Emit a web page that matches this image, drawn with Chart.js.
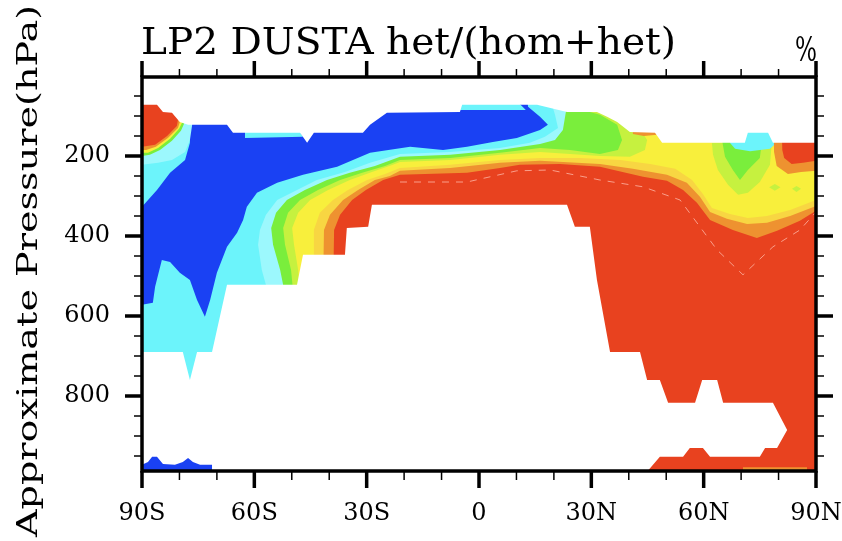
<!DOCTYPE html>
<html>
<head>
<meta charset="utf-8">
<title>LP2 DUSTA het/(hom+het)</title>
<script src="https://cdn.jsdelivr.net/npm/chart.js@4.4.0/dist/chart.umd.min.js"></script>
<style>
  html, body { margin: 0; padding: 0; background: #fff; }
  canvas { display: block; }
</style>
</head>
<body>
<canvas id="grafica" width="842" height="541"></canvas>
<script>
// Ejes: latitud y presion aproximada (hPa)
const latTicks = [-90, -60, -30, 0, 30, 60, 90];
const latLabels = ['90S', '60S', '30S', '0', '30N', '60N', '90N'];
const presTicks = [200, 400, 600, 800];
const presLabels = ['200', '400', '600', '800'];

// Colores de los niveles (de bajo a alto)
const cBlue = '#1a41f3';
const cCyan = '#6cf4fb';
const cPale = '#9cf8fd';
const cGreen = '#7aee3c';
const cYgreen = '#c6f13f';
const cYellow = '#f8ef3c';
const cGold = '#f8d642';
const cOrange = '#ee9230';
const cRed = '#e8421f';

// Regiones rellenas, cada punto es [latitud, hPa]
const domain = [[-90, 0], [90, 0], [90, 1000], [-90, 1000]];

const blueArea = [[-77.2, 0], [-77.2, 122], [-77.2, 167], [-78.5, 210], [-82.5, 242], [-86, 285], [-90, 327],
  [-90, 572], [-87.1, 567], [-86.5, 527], [-84.7, 460], [-82.5, 465], [-79.9, 492], [-77.2, 510], [-75.3, 560],
  [-73.2, 602], [-71.8, 560], [-70, 492], [-67.3, 427], [-64.6, 392], [-63, 360], [-62, 327], [-59.3, 292],
  [-53.9, 267], [-47, 247], [-37.9, 227], [-29.1, 192], [-18.4, 177], [-9.6, 185], [-3.2, 177], [3.7, 165],
  [10.1, 155], [16.3, 135], [18.4, 122], [16.3, 102], [13.1, 77], [12.3, 0]];

const paleBand = [[-55.8, 1000], [-55.8, 560], [-58, 485], [-59, 422], [-58.5, 385], [-56.9, 347], [-53.9, 310],
  [-48.6, 285], [-43.3, 260], [-35.8, 240], [-29.1, 217], [-21.1, 195], [-7.7, 190], [5.6, 180], [13.6, 167],
  [17.6, 152], [21.1, 130], [20.3, 97], [19.5, 72], [19.5, 0], [90, 0], [90, 1000]];

const greenBand = [[-51.5, 1000], [-51.5, 560], [-53.1, 485], [-55, 422], [-55.5, 380], [-54.2, 342], [-51.3, 310],
  [-46.5, 285], [-40.6, 260], [-34.5, 242], [-27.8, 225], [-21.1, 202], [-7.7, 197], [5.6, 185], [16.3, 170],
  [20.3, 160], [22.4, 135], [23.2, 90], [23.2, 0], [90, 0], [90, 1000]];

const ygreenBand = [[-49.4, 1000], [-49.4, 560], [-50.2, 485], [-51.8, 422], [-52.3, 380], [-51, 342], [-47.8, 310],
  [-43, 285], [-37.1, 260], [-31.2, 242], [-25.1, 225], [-21.1, 210], [-7.7, 205], [5.6, 192], [16.3, 180],
  [24.3, 185], [32.3, 195], [37.1, 185], [38.2, 160], [36.9, 122], [32.3, 97], [29.6, 90], [29.6, 0],
  [90, 0], [90, 1000]];

const yellowBand = [[-47.8, 1000], [-47.8, 560], [-48.3, 485], [-49.4, 422], [-49.9, 380], [-48.3, 342], [-45.1, 310],
  [-40.3, 285], [-34.5, 260], [-28.6, 240], [-23, 222], [-21.1, 215], [-7.7, 210], [5.6, 197], [16.3, 190],
  [24.3, 195], [32.3, 200], [40.3, 202], [44.3, 185], [44.9, 160], [43.5, 140], [43.5, 0], [90, 0], [90, 1000]];

const goldBand = [[-44.1, 1000], [-44.1, 560], [-44.1, 385], [-42.5, 342], [-39, 310], [-35, 285], [-29.9, 260],
  [-25.1, 245], [-21.1, 230], [-7.7, 222], [5.6, 210], [16.3, 205], [27, 205], [37.7, 210], [45.7, 220],
  [52.4, 232], [56.9, 260], [59.8, 295], [62.2, 330], [67, 345], [71.8, 355], [76.9, 350], [83.1, 335],
  [90, 310], [90, 1000]];

const orangeBand = [[-41.7, 1000], [-41.7, 560], [-41.4, 385], [-39.8, 347], [-36.3, 310], [-32.3, 285], [-27.8, 260],
  [-23.8, 250], [-21.1, 237], [-7.7, 230], [5.6, 217], [16.3, 212], [32.3, 220], [41.1, 232], [50.2, 247],
  [55.5, 267], [59, 302], [61.7, 340], [66.2, 357], [71.6, 370], [76.9, 367], [83.1, 350], [90, 325], [90, 1000]];

const redBand = [[-39, 1000], [-39, 560], [-38.7, 385], [-37.1, 347], [-33.9, 310], [-30.2, 285], [-25.6, 260],
  [-21.1, 247], [-3.2, 242], [5.6, 230], [10.9, 222], [21.6, 220], [32.3, 227], [43.8, 252], [50.2, 262],
  [54.5, 285], [58.2, 317], [61.7, 360], [67.8, 385], [74.2, 405], [79.6, 387], [85.7, 362], [90, 337], [90, 1000]];

// Mancha roja del polo sur (arriba a la izquierda)
const paleBlobSH = [[-90, 0], [-76.6, 0], [-76.6, 122], [-77.2, 160], [-78.5, 190], [-82, 210], [-85.7, 217], [-90, 222]];
const greenBlobSH = [[-90, 0], [-78.8, 0], [-78.8, 120], [-79.6, 137], [-82, 162], [-85.2, 185], [-87.9, 197], [-90, 200]];
const yellowBlobSH = [[-90, 0], [-79.3, 0], [-79.3, 117], [-80.1, 132], [-82.5, 157], [-85.7, 180], [-88.4, 192], [-90, 192]];
const orangeBlobSH = [[-90, 0], [-79.9, 0], [-79.9, 115], [-80.4, 130], [-83.1, 155], [-86.3, 177], [-88.9, 185], [-90, 185]];
const redBlobSH = [[-90, 0], [-80.4, 0], [-80.4, 110], [-80.7, 125], [-83.3, 150], [-86.5, 172], [-90, 177]];

// Detalles del hemisferio norte en la parte alta
const nhYgreen = [[62.2, 167], [78.2, 167], [77.7, 222], [75, 265], [71.8, 292], [69.2, 297], [66.5, 272], [63.8, 235], [62.5, 197]];
const nhGreen = [[64.9, 160], [75.6, 160], [75, 205], [71.8, 235], [69.7, 260], [67.8, 235], [65.7, 202]];
const nhCyan = [[67, 167], [69, 135], [77.5, 135], [79.5, 167], [77.7, 182], [72.4, 188], [68.4, 182]];
const spotA = [[77.5, 278], [79, 270], [80.5, 278], [79, 287]];
const spotB = [[83.6, 282], [84.8, 275], [86, 282], [84.8, 290]];
const nhOrange = [[78.5, 0], [90, 0], [90, 237], [86, 240], [82.5, 245], [79.5, 225], [78.8, 190]];
const nhRed = [[80.5, 0], [90, 0], [90, 212], [86.5, 217], [83.5, 220], [81.5, 205], [81, 185]];
const notchOrange = [[41.1, 140], [47.5, 140], [47.5, 147], [44, 150], [41.1, 145]];
const cyanTopA = [[-62.5, 140], [-47.8, 140], [-47, 152], [-62.5, 155]];
const cyanTopB = [[-5.1, 70], [10.9, 70], [12.5, 85], [-5.1, 85]];

// Zonas sin datos (blanco)
const maskTop = [[-90, 0], [-90, 72], [-86, 72], [-84.4, 90], [-82, 92], [-79.9, 115], [-77.7, 122], [-67.3, 122],
  [-65.7, 142], [-47.8, 142], [-45.9, 167], [-44.1, 142], [-31, 142], [-29.1, 122], [-24.6, 92], [-5.1, 90],
  [-4.5, 72], [15.5, 72], [23.5, 90], [31.5, 90], [34.2, 102], [36.9, 115], [40.3, 140], [47, 142], [48.9, 167],
  [71, 167], [71.8, 142], [77.2, 142], [78.5, 167], [90, 167], [90, 0]];

const maskLow = [[-90, 690], [-79.1, 690], [-77.2, 760], [-75.3, 690], [-71.3, 690], [-67.3, 522], [-48.6, 522],
  [-47, 447], [-35.8, 447], [-35.3, 380], [-29.6, 377], [-28.6, 322], [23.5, 322], [25.6, 377], [29.6, 377],
  [31.5, 510], [35, 690], [43, 690], [44.9, 760], [48.3, 760], [50.5, 817], [57.7, 817], [59.6, 760], [63.6, 760],
  [65.2, 817], [78.5, 817], [82.3, 885], [79.6, 930], [76.4, 930], [75, 952], [61.7, 952], [59.8, 930], [56.3, 930],
  [54.5, 952], [48.3, 952], [45.1, 987], [45.1, 1000], [-90, 1000]];

const blueStrip = [[-90, 1000], [-90, 972], [-88.4, 965], [-87.3, 952], [-86, 952], [-84.4, 970], [-81.2, 972],
  [-79.1, 965], [-77.7, 955], [-76.4, 965], [-74.5, 972], [-71.3, 972], [-71.3, 1000]];
const orangeLine = [[70.5, 978], [87.6, 978], [87.6, 990], [70.5, 990]];

// Linea de contorno punteada dentro del rojo
const contourLine = [[-21.1, 265], [-3.2, 265], [10.1, 237], [19, 235], [32.3, 260], [43.8, 277], [53.7, 310],
  [59, 377], [63.6, 435], [70.5, 497], [78.5, 427], [85.7, 385], [90, 340]];

// Orden de pintado: de abajo hacia arriba
const capas = [
  [domain, cCyan], [blueArea, cBlue], [paleBand, cPale], [greenBand, cGreen], [ygreenBand, cYgreen],
  [yellowBand, cYellow], [goldBand, cGold], [orangeBand, cOrange], [redBand, cRed],
  [paleBlobSH, cPale], [greenBlobSH, cGreen], [yellowBlobSH, cYellow], [orangeBlobSH, cOrange], [redBlobSH, cRed],
  [nhYgreen, cYgreen], [nhGreen, cGreen], [nhCyan, cCyan], [spotA, cYgreen], [spotB, cYgreen],
  [nhOrange, cOrange], [nhRed, cRed], [notchOrange, cOrange], [cyanTopA, cCyan], [cyanTopB, cCyan],
  [maskTop, '#ffffff'], [maskLow, '#ffffff'], [blueStrip, cBlue], [orangeLine, cOrange]
];

const aPuntos = pts => pts.map(([lat, p]) => ({ x: lat, y: p }));

const datasets = capas.map(([pts, color]) => ({
  data: aPuntos(pts),
  backgroundColor: color,
  borderWidth: 0,
  pointRadius: 0,
  tension: 0,
  fill: 'shape'
}));

// el contorno va encima del rojo pero debajo de las mascaras
datasets.splice(24, 0, {
  data: aPuntos(contourLine),
  borderColor: 'rgba(255, 190, 175, 0.75)',
  borderWidth: 1,
  borderDash: [7, 7],
  pointRadius: 0,
  tension: 0,
  fill: false
});
datasets.forEach((d, i) => { d.order = datasets.length - i; });

// Texto escalado a un ancho dado
function textoAjustado(ctx, texto, ancho, fuente) {
  ctx.font = fuente;
  const w = ctx.measureText(texto).width;
  ctx.scale(ancho / w, 1);
  ctx.fillText(texto, 0, 0);
}

// Marco y marcas de los ejes
const marco = {
  id: 'marco',
  afterDraw(chart) {
    const { ctx, chartArea: a, scales: { x, y } } = chart;
    ctx.save();
    ctx.strokeStyle = '#000';
    const raya = (x1, y1, x2, y2, w) => {
      ctx.lineWidth = w;
      ctx.beginPath();
      ctx.moveTo(x1, y1);
      ctx.lineTo(x2, y2);
      ctx.stroke();
    };
    for (let lat = -80; lat < 90; lat += 10) {
      if (latTicks.includes(lat)) continue;
      const px = x.getPixelForValue(lat);
      raya(px, a.bottom, px, a.bottom + 9, 1.5);
      raya(px, a.top, px, a.top - 8, 1.5);
    }
    latTicks.forEach(lat => {
      const px = x.getPixelForValue(lat);
      raya(px, a.bottom, px, a.bottom + 17, 3.5);
      raya(px, a.top, px, a.top - 16, 3.5);
    });
    for (let p = 50; p < 1000; p += 50) {
      if (presTicks.includes(p)) continue;
      const py = y.getPixelForValue(p);
      raya(a.left, py, a.left - 8, py, 1.5);
      raya(a.right, py, a.right + 8, py, 1.5);
    }
    presTicks.forEach(p => {
      const py = y.getPixelForValue(p);
      raya(a.left, py, a.left - 17, py, 3.5);
      raya(a.right, py, a.right + 17, py, 3.5);
    });
    ctx.lineWidth = 3.5;
    ctx.strokeRect(a.left, a.top, a.right - a.left, a.bottom - a.top);
    ctx.restore();
  }
};

// Titulo, unidades y nombre del eje vertical
const textos = {
  id: 'textos',
  afterDraw(chart) {
    const { ctx } = chart;
    ctx.save();
    ctx.fillStyle = '#000';
    ctx.textAlign = 'left';
    ctx.textBaseline = 'alphabetic';

    ctx.save();
    ctx.translate(141, 54);
    textoAjustado(ctx, 'LP2 DUSTA het/(hom+het)', 535, '37px "DejaVu Serif"');
    ctx.restore();

    ctx.save();
    ctx.translate(795, 61);
    textoAjustado(ctx, '%', 22, '34px "DejaVu Serif"');
    ctx.restore();

    ctx.save();
    ctx.translate(37, 537);
    ctx.rotate(-Math.PI / 2);
    textoAjustado(ctx, 'Approximate Pressure(hPa)', 532, '27px "DejaVu Serif"');
    ctx.restore();

    ctx.restore();
  }
};

Chart.defaults.font.family = '"DejaVu Serif"';
Chart.defaults.color = '#000';

new Chart(document.getElementById('grafica'), {
  type: 'line',
  data: { datasets: datasets },
  options: {
    responsive: false,
    animation: false,
    devicePixelRatio: 1,
    events: [],
    layout: { padding: { left: 0, right: 26, top: 77, bottom: 0 } },
    plugins: {
      legend: { display: false },
      tooltip: { enabled: false },
      title: { display: false }
    },
    scales: {
      x: {
        type: 'linear',
        min: -90,
        max: 90,
        grid: { display: false, drawTicks: false },
        border: { display: false },
        afterBuildTicks: s => { s.ticks = latTicks.map(v => ({ value: v })); },
        afterFit: s => { s.height = 70; s.paddingLeft = 0; s.paddingRight = 0; },
        ticks: {
          font: { size: 24 },
          padding: 28,
          maxRotation: 0,
          autoSkip: false,
          callback: v => latLabels[latTicks.indexOf(v)]
        }
      },
      y: {
        type: 'linear',
        reverse: true,
        min: 2.5,
        max: 987.5,
        grid: { display: false, drawTicks: false },
        border: { display: false },
        afterBuildTicks: s => { s.ticks = presTicks.map(v => ({ value: v })); },
        afterFit: s => { s.width = 142; s.paddingTop = 0; s.paddingBottom = 0; },
        ticks: {
          font: { size: 24 },
          padding: 32,
          autoSkip: false,
          callback: v => presLabels[presTicks.indexOf(v)]
        }
      }
    }
  },
  plugins: [marco, textos]
});
</script>
</body>
</html>
